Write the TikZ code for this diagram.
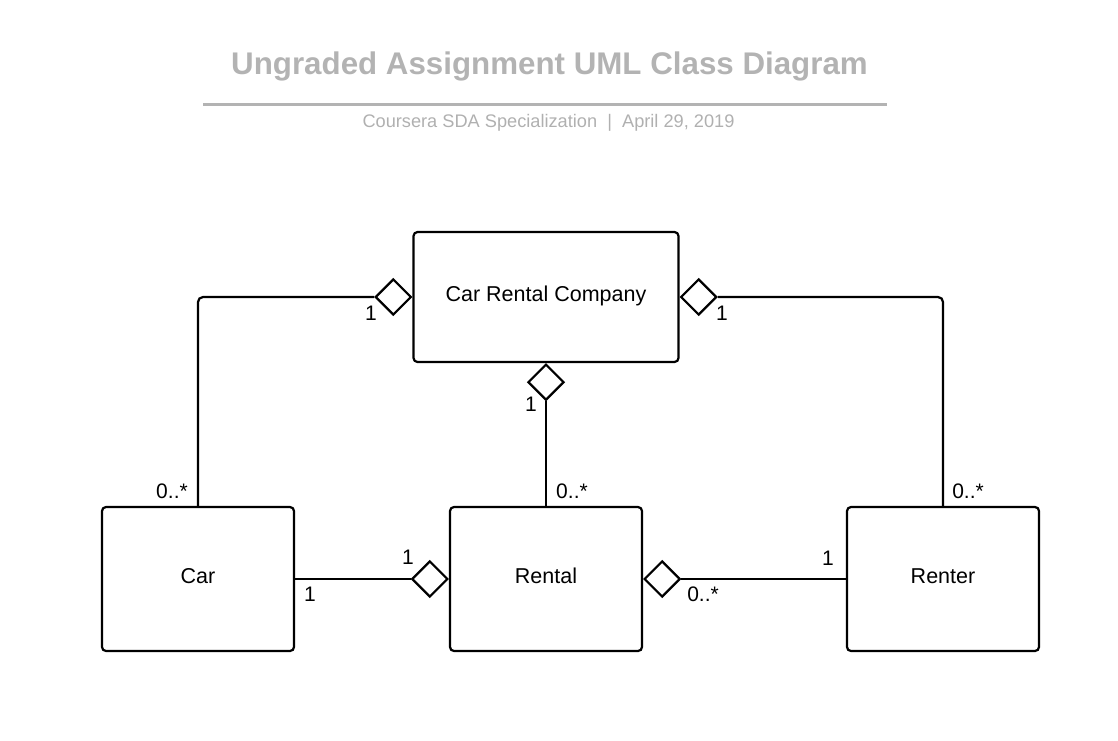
\documentclass[tikz,border=0pt]{standalone}
\usepackage{fontspec}
\setmainfont{Liberation Sans}
\usetikzlibrary{positioning,shapes.geometric,calc}
\definecolor{titlegray}{HTML}{B3B3B3}
\definecolor{subgray}{HTML}{B0B0B0}

\begin{document}
\begin{tikzpicture}[x=1pt,y=-1pt,
         umlclass/.style = {draw,line width=2.2pt,rounded corners=4pt,
            font=\fontsize{21.5}{25}\selectfont,text height=15.4pt,text depth=6pt,
            minimum width=192pt,minimum height=144pt},
         aggr/.style = {draw,diamond,fill=white,line width=2.2pt,inner sep=0pt,
            minimum width=36pt,minimum height=36pt},
         assoc/.style = {line width=2.2pt,rounded corners=5pt},
         mult/.style = {font=\fontsize{21}{25}\selectfont,inner sep=0pt}
]
   \useasboundingbox (0,0) rectangle (1118,740);

   % heading
   \node[font=\bfseries\fontsize{31.3}{36}\selectfont,text=titlegray] (title) at (549.5,66) {Ungraded Assignment UML Class Diagram};
   \coordinate (rule1) at (203,104);
   \coordinate (rule2) at (887,104);
   \draw[titlegray,line width=3pt] (rule1) -- (rule2);
   \node[font=\fontsize{18.2}{22}\selectfont,text=subgray] (subtitle) at (548.5,123) {Coursera SDA Specialization~~|~~April 29, 2019};

   % classes
   \node[umlclass,minimum width=265pt,minimum height=130pt] (company) at (546,297) {Car Rental Company};
   \node[umlclass] (car)    at (198,579) {Car};
   \node[umlclass] (rental) at (546,579) {Rental};
   \node[umlclass] (renter) at (943,579) {Renter};

   % aggregation diamonds
   \node[aggr,anchor=east]  (dcar)    at (company.west) {};
   \node[aggr,anchor=west]  (drenter) at (company.east) {};
   \node[aggr,anchor=north] (drental) at (company.south) {};
   \node[aggr,anchor=east]  (dcarrental) at (rental.west) {};
   \node[aggr,anchor=west]  (drenterrental) at (rental.east) {};

   \draw[assoc] (dcar.west) -| (car.north);
   \draw[assoc] (drenter.east) -| (renter.north);
   \draw[assoc] (drental.south) -- (rental.north);
   \draw[assoc] (car.east) -- (dcarrental.west);
   \draw[assoc] (drenterrental.east) -- (renter.west);

   % multiplicities
   \node[mult] (m1)  at (371,313) {1};
   \node[mult] (m2)  at (172,491) {0..*};
   \node[mult] (m3)  at (722,313) {1};
   \node[mult] (m4)  at (968,491) {0..*};
   \node[mult] (m5)  at (531,404) {1};
   \node[mult] (m6)  at (572,491) {0..*};
   \node[mult] (m7)  at (408,557) {1};
   \node[mult] (m8)  at (310,594) {1};
   \node[mult] (m9)  at (828,558) {1};
   \node[mult] (m10) at (703,594) {0..*};
\end{tikzpicture}
\end{document}
